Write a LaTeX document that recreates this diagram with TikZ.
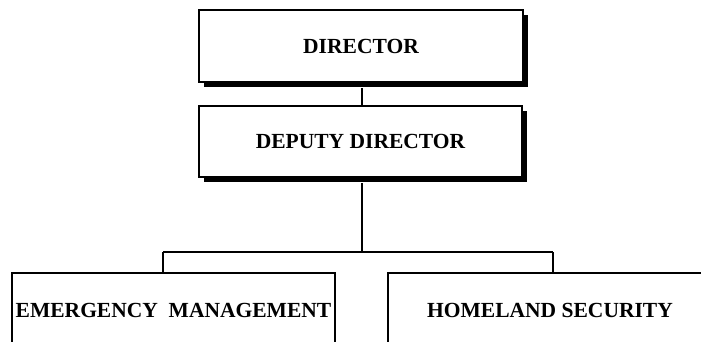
\documentclass[tikz,border=0pt]{standalone}
\usepackage{fontspec}
\setmainfont{Liberation Serif}
\usetikzlibrary{shadows}
\begin{document}
\begin{tikzpicture}[x=1bp,y=-1bp,
  unit/.style={draw=black, line width=2bp, fill=white, rectangle,
    inner sep=0pt, font=\fontsize{21.6}{24}\selectfont\bfseries},
  shadowed/.style={drop shadow={shadow xshift=5bp, shadow yshift=-5bp,
    fill=black, opacity=1}},
  link/.style={line width=2bp}]
\useasboundingbox (0,0) rectangle (701,341);
\clip (0,0) rectangle (701,341);

% leadership
\node[unit, shadowed, minimum width=324bp, minimum height=72bp] (dir) at (361,46) {DIRECTOR};
\node[unit, shadowed, minimum width=323bp, minimum height=71bp] (dep) at (360.5,141.5) {DEPUTY DIRECTOR};

% divisions
\node[unit, minimum width=323bp, minimum height=74bp] (em) at (173.5,310) {EMERGENCY\ \ MANAGEMENT};
\node[unit, minimum width=324bp, minimum height=74bp] (hs) at (550,310) {HOMELAND SECURITY};

% branch points of the bus line
\coordinate (bus) at (361.7,252);
\coordinate (busL) at (163,252);
\coordinate (busR) at (553,252);

% connectors
\draw[link] (dir.south -| bus) ++(0,5) -- (dep.north -| bus);
\draw[link] (dep.south -| bus) ++(0,5) -- (bus);
\draw[link] (busL) -- (busR);
\draw[link] (busL) -- (busL |- em.north);
\draw[link] (busR) -- (busR |- hs.north);
\end{tikzpicture}
\end{document}
